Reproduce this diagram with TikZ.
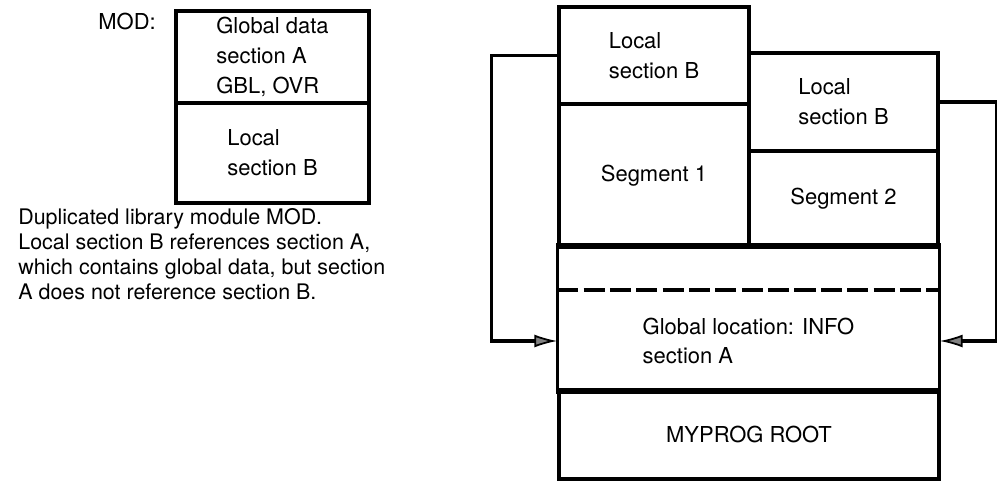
\documentclass[tikz,border=0pt]{standalone}
\usepackage{fontspec}
\setmainfont{TeX Gyre Heros}
\usepackage{tikz}
\usetikzlibrary{arrows.meta}

\begin{document}
\begin{tikzpicture}[x=0.02cm,y=-0.02cm,
  font=\fontsize{12.5}{17}\selectfont,
  blk/.style={draw,line width=2pt,align=left,inner sep=0pt},
  link/.style={line width=2pt,-{Latex[length=4.6mm,width=2.6mm,fill=tipgray,line width=1pt]}}]
\definecolor{tipgray}{RGB}{130,130,130}
\useasboundingbox (0,0) rectangle (997,483);

% Library module MOD
\node[anchor=east] (modlbl) at (162,21) {MOD:};
\node[blk,minimum width=3.86cm,minimum height=1.84cm] (modA) at (272.5,57) {Global data\\section A\\GBL, OVR};
\node[blk,minimum width=3.86cm,minimum height=2.0cm] (modB) at (272.5,153) {Local\\section B};

% Caption
\node[anchor=north west,align=left,inner sep=0pt,font=\fontsize{12.2}{14.3}\selectfont] (note) at (18,208)
  {Duplicated library module MOD.\\Local section B references section A,\\which contains global data, but section\\A does not reference section B.};

% Overlay structure
\node[blk,minimum width=3.8cm,minimum height=1.94cm] (lsbA) at (654,55.5) {Local\\section B};
\node[blk,minimum width=3.8cm,minimum height=2.86cm] (seg1) at (654,175.5) {Segment 1};
\node[blk,minimum width=3.78cm,minimum height=1.96cm] (lsbB) at (843.5,102) {Local\\section B};
\node[blk,minimum width=3.78cm,minimum height=1.92cm] (seg2) at (843.5,199) {Segment 2};
\node[blk,draw=none,minimum width=7.58cm,minimum height=0.9cm] (gap) at (748.5,269.5) {};
\node[blk,draw=none,minimum width=7.58cm,minimum height=1.96cm] (glob) at (748.5,341) {Global location: INFO\\section A};
\draw[line width=2pt] (gap.north west) rectangle (glob.south east);
\draw[line width=2pt,dash pattern=on 12pt off 3pt] (glob.north west) -- (glob.north east);
\node[blk,minimum width=7.6cm,minimum height=1.78cm] (root) at (749,434.5) {MYPROG ROOT};

% References to section A
\draw[link] (lsbA.west) -- ++(-66,0) |- (glob.west);
\draw[link] (lsbB.east) -- ++(57,0) |- (glob.east);
\end{tikzpicture}
\end{document}
